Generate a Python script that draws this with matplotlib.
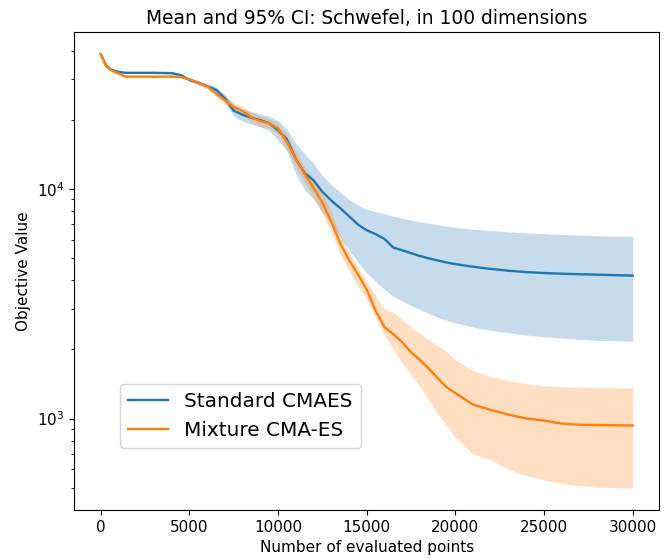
import matplotlib
matplotlib.use("Agg")
import matplotlib.pyplot as plt
import numpy as np

evals = [0, 300, 600, 1000, 1400, 2000, 3000, 4000, 4500, 5000, 5500, 6000, 6500,
         7000, 7500, 8000, 8500, 9000, 9500, 10000, 10500, 11000, 11500, 12000,
         12500, 13000, 13500, 14000, 14500, 15000, 15500, 16000, 16500, 17000,
         17500, 18000, 18500, 19000, 19500, 20000, 21000, 22000, 23000, 24000,
         25000, 26000, 27000, 28000, 29000, 30000]

std_mean = [38600, 34500, 33000, 32300, 32000, 32000, 32000, 31900, 31300, 29800,
            29000, 28000, 27000, 24800, 21900, 21000, 20400, 19900, 19300, 18000,
            16400, 13500, 11700, 10900, 9700, 8900, 8250, 7600, 7000, 6600, 6350,
            6050, 5550, 5400, 5250, 5100, 4980, 4880, 4780, 4700, 4580, 4480, 4400,
            4340, 4300, 4270, 4250, 4230, 4210, 4190]
std_upper = [38800, 34800, 33300, 32500, 32300, 32300, 32300, 32300, 31700, 30300,
             29600, 28700, 27800, 25800, 23200, 22300, 21700, 21200, 20700, 19800,
             18200, 15800, 14200, 12900, 11400, 10400, 9700, 9000, 8500, 8150, 7950,
             7800, 7600, 7450, 7300, 7180, 7080, 6980, 6880, 6800, 6680, 6580, 6500,
             6430, 6380, 6330, 6290, 6250, 6230, 6210]
std_lower = [38400, 34200, 32700, 32000, 31700, 31700, 31700, 31600, 30900, 29300,
             28400, 27300, 26200, 23800, 20700, 19700, 19100, 18600, 17900, 16300,
             14600, 11600, 9900, 9000, 7900, 7000, 6200, 5400, 4800, 4300, 3950,
             3650, 3400, 3250, 3100, 2980, 2870, 2760, 2680, 2610, 2500, 2420, 2360,
             2310, 2270, 2240, 2210, 2190, 2180, 2170]

mix_mean = [38600, 34200, 32800, 31800, 30800, 30800, 30800, 30800, 30700, 30000,
            28900, 28000, 26000, 24300, 22700, 21800, 20500, 19700, 19300, 18300,
            16000, 13500, 11600, 10100, 8700, 7200, 5800, 4900, 4250, 3640, 2950,
            2500, 2330, 2150, 1940, 1800, 1650, 1500, 1370, 1290, 1150, 1090, 1040,
            1000, 980, 950, 940, 937, 935, 933]
mix_upper = [38800, 34400, 33000, 32000, 31100, 31100, 31100, 31100, 31000, 30400,
             29400, 28600, 26900, 25300, 23700, 22800, 21500, 20700, 20200, 19200,
             17200, 14600, 12500, 11000, 9600, 7900, 6400, 5300, 4550, 3950, 3450,
             3000, 2900, 2700, 2500, 2350, 2200, 2080, 1960, 1800, 1620, 1520, 1460,
             1420, 1390, 1375, 1368, 1365, 1362, 1360]
mix_lower = [38400, 34000, 32600, 31600, 30500, 30500, 30500, 30500, 30400, 29600,
             28400, 27400, 25100, 23300, 21700, 20800, 19500, 18700, 18400, 17400,
             14800, 12400, 10700, 9200, 7800, 6500, 5200, 4400, 3750, 3300, 2750,
             2300, 2000, 1750, 1550, 1380, 1200, 1050, 930, 830, 700, 660, 600,
             565, 540, 522, 510, 503, 500, 498]

labels = ["Standard CMAES", "Mixture CMA-ES"]
colors = ["#1f77b4", "#ff7f0e"]

fig = plt.figure(figsize=(6.68, 5.59), dpi=100)
ax = fig.add_axes([0.111, 0.088, 0.876, 0.855])

ax.plot(evals, std_mean, color=colors[0], lw=1.7, label=labels[0])
ax.fill_between(evals, std_lower, std_upper, color=colors[0], alpha=0.25, lw=0)
ax.plot(evals, mix_mean, color=colors[1], lw=1.7, label=labels[1])
ax.fill_between(evals, mix_lower, mix_upper, color=colors[1], alpha=0.25, lw=0)

ax.set_yscale("log")
ax.set_title("Mean and 95% CI: Schwefel, in 100 dimensions", fontsize=13.4)
ax.set_xlabel("Number of evaluated points", fontsize=11)
ax.set_ylabel("Objective Value", fontsize=11)
ax.tick_params(labelsize=11)
ax.set_xticks([0, 5000, 10000, 15000, 20000, 25000, 30000])
ax.legend(loc="lower left", bbox_to_anchor=(0.062, 0.108), fontsize=14.4)

fig.savefig("out.png", dpi=100)
